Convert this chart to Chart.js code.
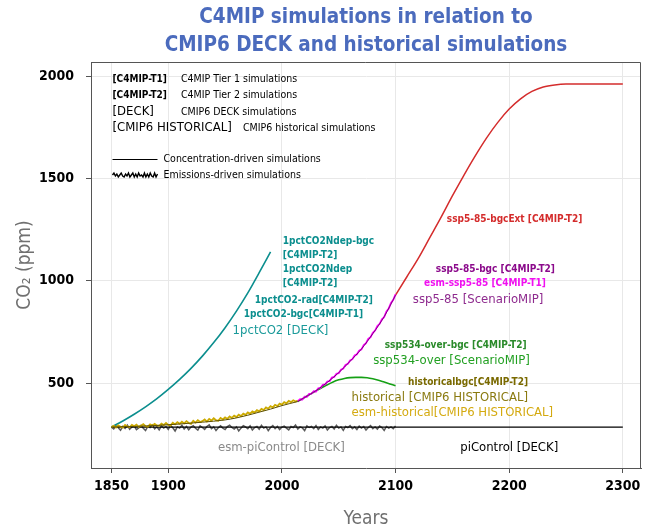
<!DOCTYPE html>
<html>
<head>
<meta charset="utf-8">
<title>C4MIP simulations</title>
<script src="https://cdn.jsdelivr.net/npm/chart.js@4.4.1/dist/chart.umd.min.js"></script>
<style>
  html, body { margin: 0; padding: 0; background: #fff; }
  #wrap { width: 654px; height: 532px; }
</style>
</head>
<body>
<div id="wrap"><canvas id="co2Chart" width="654" height="532"></canvas></div>
<script>
// --- 1. DATA ---
const xTicks = [1850, 1900, 2000, 2100, 2200, 2300];
const yTicks = [500, 1000, 1500, 2000];

// 1pctCO2 (concentration driven)
const pctYears = [1850, 1860, 1870, 1880, 1890, 1900, 1910, 1920, 1930, 1940, 1950, 1960, 1970, 1980, 1990];
const pctCO2 = [285, 315, 348, 384, 424, 469, 518, 572, 632, 698, 771, 852, 941, 1040, 1142];

// ssp5-85-bgcExt
const extYears = [2100, 2110, 2120, 2130, 2140, 2150, 2160, 2170, 2180, 2190, 2200, 2210, 2220, 2230, 2240, 2250, 2300];
const extCO2 = [930, 1020, 1110, 1210, 1310, 1415, 1515, 1610, 1698, 1775, 1840, 1890, 1926, 1948, 1958, 1962, 1962];

// ssp5-85 (concentration driven)
const sspYears = [2014, 2020, 2030, 2040, 2050, 2060, 2070, 2080, 2090, 2100];
const ssp585 = [410, 430, 463, 504, 551, 607, 667, 742, 825, 930];

// esm-ssp5-85 (emissions driven, every 2 years from 2014)
const esmSspStart = 2014;
const esmSsp585 = [
  412, 421, 420, 434, 433, 447, 448, 460, 459, 475,
  477, 492, 494, 508, 510, 527, 530, 546, 549, 566,
  571, 589, 594, 611, 617, 635, 641, 659, 665, 686,
  695, 716, 725, 746, 757, 779, 790, 812, 823, 850,
  865, 892, 907, 934
];

// ssp534-over
const overYears = [2014, 2020, 2025, 2030, 2035, 2040, 2045, 2050, 2055, 2060, 2065, 2070, 2075, 2080, 2085, 2090, 2095, 2100];
const ssp534 = [410, 430, 446, 462, 477, 492, 506, 516, 523, 527, 528, 528, 526, 521, 514, 505, 496, 487];

// historical (concentration driven)
const histYears = [1850, 1870, 1890, 1910, 1930, 1950, 1960, 1970, 1980, 1990, 2000, 2014];
const histCO2 = [285, 288, 293, 300, 309, 320, 330, 343, 358, 373, 390, 410];

// esm-historical (emissions driven, every 2 years from 1850)
const esmHistStart = 1850;
const esmHist = [
  285, 291, 283, 293, 287, 282, 295, 288, 285, 296,
  289, 297, 286, 292, 299, 289, 287, 298, 292, 301,
  293, 291, 302, 295, 305, 296, 293, 306, 298, 309,
  301, 311, 303, 314, 305, 301, 316, 307, 319, 310,
  314, 322, 312, 325, 317, 328, 319, 316, 330, 322,
  332, 325, 337, 330, 341, 334, 346, 339, 351, 345,
  357, 350, 362, 356, 368, 362, 374, 368, 381, 375,
  387, 381, 394, 388, 400, 395, 407, 401, 413, 407,
  416, 410, 414
];

// esm-piControl (emissions driven, every 2 years from 1850 to 2100)
const esmPiStart = 1850;
const esmPi = [
  285, 276, 291, 282, 270, 288, 279, 294, 274, 286,
  290, 272, 281, 293, 279, 268, 288, 283, 295, 276,
  286, 271, 291, 280, 288, 274, 293, 282, 266, 286,
  280, 294, 276, 288, 272, 285, 292, 279, 270, 291,
  283, 274, 288, 296, 277, 286, 268, 282, 291, 280,
  273, 288, 294, 283, 275, 286, 266, 280, 292, 286,
  277, 291, 271, 283, 288, 275, 294, 280, 286, 268,
  283, 292, 277, 288, 273, 285, 290, 280, 271, 288,
  283, 295, 275, 286, 281, 268, 291, 283, 288, 277,
  292, 273, 286, 280, 291, 271, 283, 288, 276, 294,
  280, 286, 269, 288, 283, 292, 277, 286, 273, 290,
  280, 288, 271, 283, 292, 277, 286, 275, 290, 283,
  269, 288, 280, 286, 277, 291
];

// piControl
const piYears = [1850, 2300];
const piCO2 = [285, 285];

// --- 2. HELPERS ---
const FONT = "'DejaVu Sans Condensed', 'DejaVu Sans', sans-serif";
Chart.defaults.font.family = FONT;

const pairs = (xs, ys) => ys.map((v, i) => ({ x: xs[i], y: v }));
const stepped = (start, ys) => ys.map((v, i) => ({ x: start + 2 * i, y: v }));

function line(label, data, color, width, order, smooth) {
  return {
    label, data, order,
    borderColor: color,
    borderWidth: width,
    pointRadius: 0,
    fill: false,
    tension: 0,
    cubicInterpolationMode: smooth ? 'monotone' : 'default'
  };
}

// annotation texts, placed in data units (year, ppm)
const notes = [
  { t: '1pctCO2Ndep-bgc', x: 2000.8, y: 1193, c: '#0b8e8e', b: true },
  { t: '[C4MIP-T2]', x: 2000.8, y: 1124, c: '#0b8e8e', b: true },
  { t: '1pctCO2Ndep', x: 2000.8, y: 1054, c: '#0b8e8e', b: true },
  { t: '[C4MIP-T2]', x: 2000.8, y: 989, c: '#0b8e8e', b: true },
  { t: '1pctCO2-rad[C4MIP-T2]', x: 1976.2, y: 903, c: '#0b8e8e', b: true },
  { t: '1pctCO2-bgc[C4MIP-T1]', x: 1966.5, y: 834, c: '#0b8e8e', b: true },
  { t: '1pctCO2 [DECK]', x: 1956.6, y: 756, c: '#1a9a9a', b: false },
  { t: 'ssp5-85-bgcExt [C4MIP-T2]', x: 2145.1, y: 1299, c: '#d42c2c', b: true },
  { t: 'ssp5-85-bgc [C4MIP-T2]', x: 2135.4, y: 1054, c: '#8b0a8b', b: true },
  { t: 'esm-ssp5-85 [C4MIP-T1]', x: 2125.1, y: 986, c: '#f010f0', b: true },
  { t: 'ssp5-85 [ScenarioMIP]', x: 2115.2, y: 907, c: '#8e2a8e', b: false },
  { t: 'ssp534-over-bgc [C4MIP-T2]', x: 2090.5, y: 684, c: '#2a8a2a', b: true },
  { t: 'ssp534-over [ScenarioMIP]', x: 2080.3, y: 609, c: '#22a022', b: false },
  { t: 'historicalbgc[C4MIP-T2]', x: 2111, y: 505, c: '#7a6a00', b: true },
  { t: 'historical [CMIP6 HISTORICAL]', x: 2061.3, y: 431, c: '#8a7a10', b: false },
  { t: 'esm-historical[CMIP6 HISTORICAL]', x: 2061.3, y: 358, c: '#d4aa10', b: false },
  { t: 'esm-piControl [DECK]', x: 1943.7, y: 185, c: '#8a8a8a', b: false },
  { t: 'piControl [DECK]', x: 2156.9, y: 185, c: '#000000', b: false }
];

const legendRows = [
  { tag: '[C4MIP-T1]', bold: true, desc: 'C4MIP Tier 1 simulations', dx: 90, dy: 17 },
  { tag: '[C4MIP-T2]', bold: true, desc: 'C4MIP Tier 2 simulations', dx: 90, dy: 33 },
  { tag: '[DECK]', bold: false, desc: 'CMIP6 DECK simulations', dx: 90, dy: 50 },
  { tag: '[CMIP6 HISTORICAL]', bold: false, desc: 'CMIP6 historical simulations', dx: 152, dy: 66 }
];

// --- 3. PLUGIN: title, frame, notes, legend box ---
const decorate = {
  id: 'decorate',
  afterDatasetsDraw(chart) {
    const { ctx, chartArea: a, scales: { x, y } } = chart;
    ctx.save();
    ctx.textBaseline = 'middle';
    ctx.textAlign = 'left';
    notes.forEach(n => {
      ctx.font = n.b ? `bold 10px ${FONT}` : `13px ${FONT}`;
      ctx.fillStyle = n.c;
      ctx.fillText(n.t, x.getPixelForValue(n.x), y.getPixelForValue(n.y));
    });

    // legend box text
    const lx = a.left + 21.5;
    legendRows.forEach(r => {
      ctx.fillStyle = '#000';
      ctx.font = r.bold ? `bold 10px ${FONT}` : `13px ${FONT}`;
      ctx.fillText(r.tag, lx, a.top + r.dy);
      ctx.font = `10.5px ${FONT}`;
      ctx.fillText(r.desc, a.left + r.dx, a.top + r.dy);
    });
    // concentration-driven sample
    ctx.strokeStyle = '#000';
    ctx.lineWidth = 1;
    ctx.beginPath();
    ctx.moveTo(lx, a.top + 97.5);
    ctx.lineTo(lx + 45, a.top + 97.5);
    ctx.stroke();
    ctx.font = `10.5px ${FONT}`;
    ctx.fillText('Concentration-driven simulations', lx + 51, a.top + 97);
    // emissions-driven sample (squiggle)
    const wig = [0, -2, 1, -1, 2, 0, -2, 1, 2, -1, 1, -2, 2, 0, -2, 2, -1, 2, -2, 1, 0, 2, -2, 2, -1, 2, -2, 1, 2, -2, 2, -1];
    ctx.lineWidth = 1.4;
    ctx.beginPath();
    wig.forEach((d, i) => {
      const px = lx + i * 45 / (wig.length - 1);
      const py = a.top + 113 + d;
      if (i === 0) ctx.moveTo(px, py); else ctx.lineTo(px, py);
    });
    ctx.stroke();
    ctx.fillText('Emissions-driven simulations', lx + 51, a.top + 113);
    ctx.restore();
  },
  afterDraw(chart) {
    const { ctx, chartArea: a } = chart;
    ctx.save();
    // top and right frame
    ctx.strokeStyle = '#555';
    ctx.lineWidth = 1;
    ctx.beginPath();
    ctx.moveTo(Math.round(a.left), Math.round(a.top) + 0.5);
    ctx.lineTo(Math.round(a.right) - 0.5, Math.round(a.top) + 0.5);
    ctx.lineTo(Math.round(a.right) - 0.5, Math.round(a.bottom));
    ctx.stroke();
    // title
    ctx.fillStyle = '#4b6bbd';
    ctx.font = `bold 20.5px ${FONT}`;
    ctx.textAlign = 'center';
    ctx.textBaseline = 'middle';
    const cx = (a.left + a.right) / 2;
    ctx.fillText('C4MIP simulations in relation to', cx, 18);
    ctx.fillText('CMIP6 DECK and historical simulations', cx, 46);
    ctx.restore();
  }
};

// --- 4. CHART ---
const ctx = document.getElementById('co2Chart').getContext('2d');
const co2Chart = new Chart(ctx, {
  type: 'line',
  data: {
    datasets: [
      line('ssp5-85', pairs(sspYears, ssp585), '#7a0a7a', 1, 1, true),
      line('esm-ssp5-85', stepped(esmSspStart, esmSsp585), '#ff00ff', 1.8, 2, false),
      line('ssp5-85-bgcExt', pairs(extYears, extCO2), '#d42c2c', 1.5, 3, true),
      line('ssp534-over', pairs(overYears, ssp534), '#15a015', 1.6, 4, true),
      line('historical', pairs(histYears, histCO2), '#5c4f00', 1, 5, true),
      line('esm-historical', stepped(esmHistStart, esmHist), '#ccaa00', 1.8, 6, false),
      line('1pctCO2', pairs(pctYears, pctCO2), '#0b8e8e', 1.6, 7, true),
      line('piControl', pairs(piYears, piCO2), '#000000', 1.4, 8, false),
      line('esm-piControl', stepped(esmPiStart, esmPi), '#5a5a5a', 1.5, 9, false)
    ]
  },
  options: {
    responsive: false,
    animation: false,
    events: [],
    layout: { padding: { top: 62, right: 13, left: 0, bottom: 0 } },
    plugins: { legend: { display: false }, tooltip: { enabled: false }, title: { display: false } },
    scales: {
      x: {
        type: 'linear',
        min: 1832,
        max: 2316,
        afterBuildTicks: s => { s.ticks = xTicks.map(v => ({ value: v })); },
        afterFit: s => { s.height = 64; },
        grid: { color: '#e8e8e8', tickColor: '#555', tickLength: 5 },
        border: { color: '#555', width: 1 },
        ticks: {
          color: '#000', padding: 5, maxRotation: 0, autoSkip: false,
          font: { size: 14, weight: 'bold' },
          callback: v => String(v)
        },
        title: {
          display: true, text: 'Years', color: '#707070',
          font: { size: 19 }, padding: { top: 0, bottom: 2 }
        }
      },
      y: {
        type: 'linear',
        min: 85,
        max: 2070,
        afterBuildTicks: s => { s.ticks = yTicks.map(v => ({ value: v })); },
        afterFit: s => { s.width = 91; },
        grid: { color: '#e8e8e8', tickColor: '#555', tickLength: 5 },
        border: { color: '#555', width: 1 },
        ticks: {
          color: '#000', padding: 12,
          font: { size: 14, weight: 'bold' },
          callback: v => String(v)
        },
        title: {
          display: true, text: 'CO\u2082 (ppm)', color: '#707070',
          font: { size: 19 }, padding: { top: 14, bottom: 0 }
        }
      }
    }
  },
  plugins: [decorate]
});
</script>
</body>
</html>
